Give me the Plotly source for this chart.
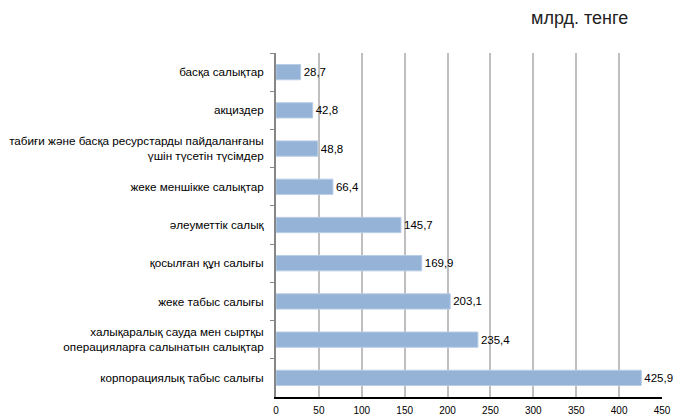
import plotly.graph_objects as go

categories = [
    "басқа салықтар",
    "акциздер",
    "табиғи және басқа ресурстарды пайдаланғаны<br>үшін түсетін түсімдер",
    "жеке меншікке салықтар",
    "әлеуметтік салық",
    "қосылған құн салығы",
    "жеке табыс салығы",
    "халықаралық сауда мен сыртқы<br>операцияларға салынатын салықтар",
    "корпорациялық табыс салығы",
]
values = [28.7, 42.8, 48.8, 66.4, 145.7, 169.9, 203.1, 235.4, 425.9]
x_ticks = [0, 50, 100, 150, 200, 250, 300, 350, 400, 450]
unit_title = "млрд. тенге"

fig = go.Figure(go.Bar(
    x=values,
    y=categories,
    orientation="h",
    marker=dict(color="#95B3D7", line=dict(color="#B9CDE5", width=1)),
    width=0.4,
    text=[f"{v:.1f}".replace(".", ",") for v in values],
    textposition="outside",
    textfont=dict(family="Liberation Sans, Arial", size=11.5, color="#000000"),
    cliponaxis=False,
))

fig.update_layout(
    width=673, height=419,
    margin=dict(l=276, r=11, t=53, b=22, autoexpand=False),
    paper_bgcolor="white", plot_bgcolor="white",
    showlegend=False,
    font=dict(family="Liberation Sans, Arial", size=10, color="#000000"),
    xaxis=dict(
        range=[0, 450], tickvals=x_ticks, ticktext=[str(t) for t in x_ticks],
        showgrid=True, gridcolor="#BFBFBF", gridwidth=1.5,
        showline=True, linecolor="#000000", linewidth=1.5,
        ticks="", zeroline=False, automargin=False,
        ticklabelstandoff=3,
        tickfont=dict(size=10),
    ),
    yaxis=dict(
        autorange="reversed", automargin=False,
        showline=True, linecolor="#868686", linewidth=2,
        ticks="outside", tickson="boundaries", ticklen=4, tickcolor="#868686",
        ticklabelstandoff=8,
        tickfont=dict(size=11.7),
    ),
    annotations=[dict(
        text=unit_title, xref="paper", yref="paper",
        x=(579 - 276) / 386, y=1 + 35 / 344, xanchor="center", yanchor="middle",
        showarrow=False, font=dict(size=18, color="#222222"),
    )],
)

fig.write_html(
    "out.html",
    config={"displayModeBar": False},
    post_script="document.body.style.margin='0px';document.body.style.overflow='hidden';",
)
